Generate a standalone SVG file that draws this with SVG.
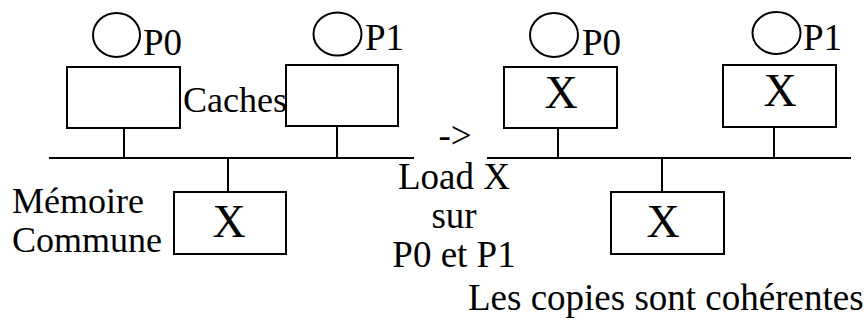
<svg xmlns="http://www.w3.org/2000/svg" width="867" height="324" viewBox="0 0 867 324">
<style>
text{font-family:'Liberation Serif','Times New Roman',Times,'DejaVu Serif',serif;fill:#000}
.lbl{font-size:37px}
.lbl36{font-size:36px}
.x{font-size:46px;text-anchor:middle}
.mid{font-size:37px;text-anchor:middle}
.box{fill:#fff;stroke:#000;stroke-width:2}
.cpu{fill:none;stroke:#000;stroke-width:2}
.wire{stroke:#000;stroke-width:2;fill:none}
</style>
<rect width="867" height="324" fill="#fff"/>
<g id="connectors">
<line class="wire" x1="49" y1="158" x2="414" y2="158"/>
<line class="wire" x1="124" y1="128" x2="124" y2="158"/>
<line class="wire" x1="337" y1="126" x2="337" y2="158"/>
<line class="wire" x1="228" y1="158" x2="228" y2="192"/>
<line class="wire" x1="487" y1="158" x2="851" y2="158"/>
<line class="wire" x1="558" y1="128" x2="558" y2="158"/>
<line class="wire" x1="774" y1="127" x2="774" y2="158"/>
<line class="wire" x1="662" y1="158" x2="662" y2="192"/>
</g>
<g font-family="Liberation Serif, serif">
<g id="left-p0">
<ellipse class="cpu" cx="116.5" cy="35" rx="23.5" ry="22"/>
<text class="lbl" x="143" y="55">P0</text>
</g>
<g id="left-p1">
<ellipse class="cpu" cx="337.5" cy="34" rx="24" ry="21.5"/>
<text class="lbl" x="365" y="50">P1</text>
</g>
<g id="left-cache-p0">
<rect class="box" x="67" y="67" width="113" height="61"/>
</g>
<g id="left-cache-p1">
<rect class="box" x="286" y="65" width="112" height="61"/>
</g>
<g id="caches-label">
<text class="lbl36" x="183" y="112">Caches</text>
</g>
<g id="left-memory">
<rect class="box" x="174" y="192" width="112" height="62"/>
<text class="x" x="229" y="237">X</text>
</g>
<g id="memory-label">
<text class="lbl36" x="12" y="213">Mémoire</text>
<text class="lbl36" x="12" y="252">Commune</text>
</g>
<g id="transition">
<text class="mid" x="455" y="148">-&gt;</text>
<text class="mid" x="454" y="189">Load X</text>
<text class="mid" x="454" y="228">sur</text>
<text class="mid" x="454" y="267">P0 et P1</text>
</g>
<g id="right-p0">
<ellipse class="cpu" cx="554" cy="35" rx="24" ry="22"/>
<text class="lbl" x="582" y="55">P0</text>
</g>
<g id="right-p1">
<ellipse class="cpu" cx="776.5" cy="33" rx="24" ry="21"/>
<text class="lbl" x="803" y="50">P1</text>
</g>
<g id="right-cache-p0">
<rect class="box" x="504" y="67" width="113" height="61"/>
<text class="x" x="561" y="108">X</text>
</g>
<g id="right-cache-p1">
<rect class="box" x="723" y="65" width="113" height="62"/>
<text class="x" x="780" y="106">X</text>
</g>
<g id="right-memory">
<rect class="box" x="611" y="192" width="113" height="62"/>
<text class="x" x="663" y="237">X</text>
</g>
<g id="caption">
<text class="lbl" x="468" y="310">Les copies sont cohérentes</text>
</g>
</g>
</svg>
